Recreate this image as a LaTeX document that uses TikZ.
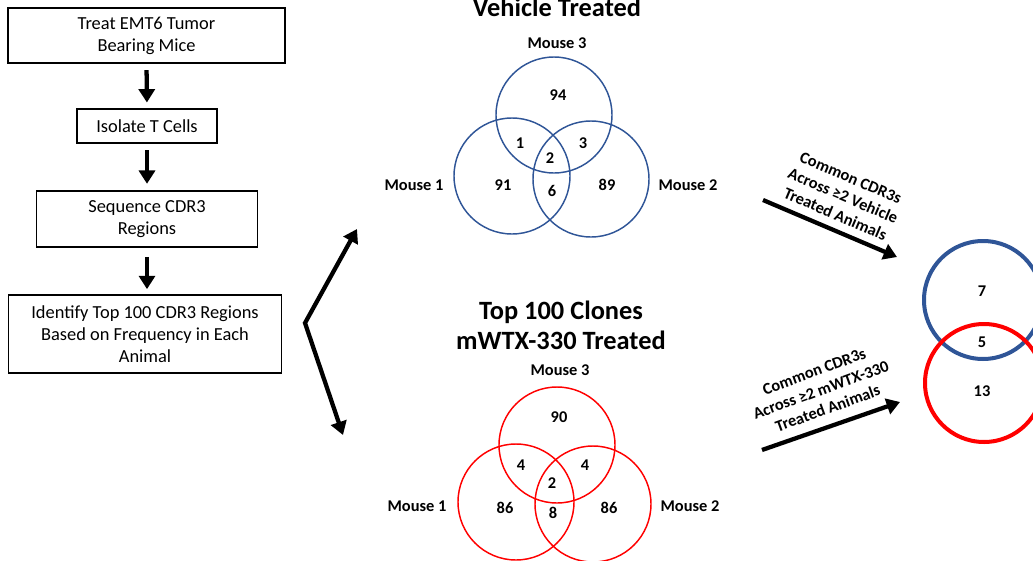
\documentclass[tikz,border=0pt]{standalone}
\usepackage{fontspec}
\setmainfont{Carlito}
\usepackage{xcolor}
\usetikzlibrary{arrows.meta}
\definecolor{vblue}{RGB}{47,85,151}
\definecolor{wred}{RGB}{255,0,0}

\begin{document}
\begin{tikzpicture}[x=0.75pt,y=-0.75pt,
    box/.style={draw,line width=0.8pt,align=center,inner sep=0pt,font=\fontsize{13.8}{16.3}\selectfont},
    fat/.style={line width=3.2pt,-{Triangle[width=12pt,length=10pt]}},
    venn/.style={draw,circle,line width=1.1pt,minimum size=87pt,inner sep=0pt},
    bigring/.style={draw,circle,line width=3pt,minimum size=88.5pt,inner sep=0pt},
    lab/.style={font=\fontsize{12.3}{14.8}\selectfont\bfseries,inner sep=0pt},
    ttl/.style={font=\fontsize{19.8}{22.5}\selectfont\bfseries,align=center,inner sep=0pt}]
\useasboundingbox (0,0) rectangle (1033,561);
% flow chart
\node[box,minimum width=207.75pt,minimum height=41.25pt] (treat) at (146.5,35.5) {Treat EMT6 Tumor\\Bearing Mice};
\node[box,minimum width=105pt,minimum height=25.5pt] (isolate) at (147,126) {Isolate T Cells};
\node[box,minimum width=165.75pt,minimum height=42pt] (seq) at (147,219) {Sequence CDR3\\Regions};
\node[box,minimum width=204.75pt,minimum height=58.5pt] (ident) at (145,334) {Identify Top 100 CDR3 Regions\\Based on Frequency in Each\\Animal};
\draw[fat,shorten <=5pt,shorten >=4.5pt] (treat.south) -- (isolate.north);
\draw[fat,shorten <=5pt,shorten >=5pt] (isolate.south) -- (seq.north);
\draw[fat,shorten <=7pt,shorten >=4pt] (seq.south) -- (seq.south |- ident.north);
% fork
\coordinate (fork) at (305,323);
\coordinate (upTip) at (357,229);
\coordinate (dnTip) at (343,435);
\draw[line width=3.2pt,line join=miter,{Triangle[width=12pt,length=10pt]}-{Triangle[width=12pt,length=10pt]}] (upTip) -- (fork) -- (dnTip);
% vehicle venn
\node[ttl,anchor=base] (vttl) at (557,16) {Vehicle Treated};
\node[venn,vblue] (v3) at (554,115) {};
\node[venn,vblue] (v1) at (512,176) {};
\node[venn,vblue] (v2) at (591,179) {};
\node[lab] (vm3) at (557,43) {Mouse 3};
\node[lab] (vm1) at (414,185) {Mouse 1};
\node[lab] (vm2) at (688,185) {Mouse 2};
\node[lab] (v94) at (558,95) {94};
\node[lab] (v13) at (520,143) {1};
\node[lab] (v23) at (583,143) {3};
\node[lab] (v123) at (550,158) {2};
\node[lab] (v91) at (503,185) {91};
\node[lab] (v12) at (552,191) {6};
\node[lab] (v89) at (607,185) {89};
% mWTX-330 venn
\node[ttl] (wttl) at (561,325) {Top 100 Clones\\mWTX-330 Treated};
\node[venn,wred] (w3) at (557,445) {};
\node[venn,wred] (w1) at (516,502) {};
\node[venn,wred] (w2) at (593,504) {};
\node[lab] (wm3) at (560,370) {Mouse 3};
\node[lab] (wm1) at (417,506) {Mouse 1};
\node[lab] (wm2) at (690,506) {Mouse 2};
\node[lab] (w90) at (559,417) {90};
\node[lab] (w13) at (521,465) {4};
\node[lab] (w23) at (585,465) {4};
\node[lab] (w123) at (552,483) {2};
\node[lab] (w86a) at (505,508) {86};
\node[lab] (w12) at (553,513) {8};
\node[lab] (w86b) at (609,508) {86};
% common clones
\coordinate (vs) at (763,200);
\coordinate (ve) at (897,257);
\coordinate (ws) at (762,450);
\coordinate (we) at (900,402);
\draw[fat] (vs) -- (ve);
\draw[fat] (ws) -- (we);
\node[lab,align=center,rotate=-23] (vcom) at (843,196) {Common CDR3s\\Across ≥2 Vehicle\\Treated Animals};
\node[lab,align=center,rotate=20] (wcom) at (821,390) {Common CDR3s\\Across ≥2 mWTX-330\\Treated Animals};
\node[bigring,vblue] (cv) at (983,300) {};
\node[bigring,wred] (cw) at (984,383) {};
\node[lab] (c7) at (982,291) {7};
\node[lab] (c5) at (982,342) {5};
\node[lab] (c13) at (982,391) {13};
\end{tikzpicture}
\end{document}
